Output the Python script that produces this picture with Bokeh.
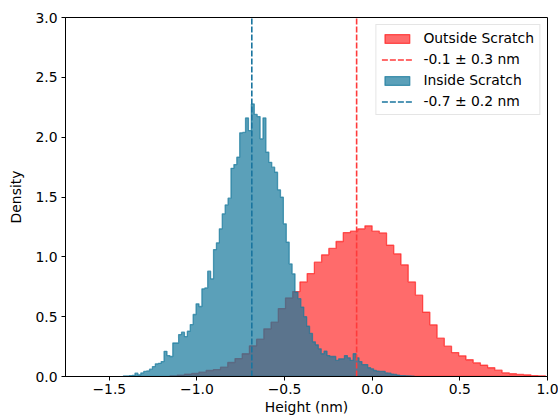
import numpy as np
from bokeh.plotting import figure
from bokeh.models import (Range1d, FixedTicker, CustomJSTickFormatter, Legend,
                          LegendItem)
from bokeh.embed import file_html
from bokeh.resources import INLINE

# ---------------- data ----------------
# Outside scratch histogram (density), 52 bins
outside_bin_start = -1.154
outside_bin_end = 0.988
outside_density = [
    0.006, 0.012, 0.020, 0.025, 0.036, 0.050, 0.058, 0.078, 0.117, 0.150,
    0.190, 0.256, 0.312, 0.398, 0.454, 0.568, 0.657, 0.710, 0.790, 0.860,
    0.955, 1.017, 1.070, 1.128, 1.203, 1.214, 1.234, 1.259, 1.214, 1.200,
    1.097, 1.025, 0.933, 0.790, 0.680, 0.537, 0.432, 0.320, 0.253, 0.200,
    0.173, 0.140, 0.114, 0.094, 0.073, 0.053, 0.031, 0.023, 0.017, 0.014,
    0.008, 0.006,
]
# Inside scratch histogram (density), 100 bins
inside_bin_start = -1.42
inside_bin_end = 0.24
inside_density = [
    0.005, 0.005, 0.008, 0.010, 0.028, 0.014, 0.030, 0.042, 0.047, 0.061,
    0.083, 0.106, 0.110, 0.125, 0.210, 0.175, 0.167, 0.280, 0.280, 0.350,
    0.370, 0.334, 0.378, 0.434, 0.518, 0.607, 0.585, 0.733, 0.740, 0.880,
    0.816, 1.061, 1.117, 1.234, 1.359, 1.434, 1.490, 1.740, 1.771, 1.832,
    2.036, 2.040, 2.161, 2.055, 2.278, 2.190, 2.172, 1.986, 2.161, 1.874,
    1.790, 1.749, 1.707, 1.560, 1.498, 1.276, 1.122, 0.941, 0.858, 0.704,
    0.650, 0.580, 0.500, 0.420, 0.360, 0.290, 0.265, 0.231, 0.190, 0.211,
    0.175, 0.167, 0.167, 0.134, 0.148, 0.148, 0.175, 0.156, 0.134, 0.190,
    0.156, 0.125, 0.100, 0.100, 0.073, 0.064, 0.050, 0.044, 0.042, 0.042,
    0.030, 0.028, 0.020, 0.017, 0.012, 0.008, 0.008, 0.006, 0.004, 0.003,
]
outside_mean = [-0.089]
inside_mean = [-0.687]
series_labels = ["Outside Scratch", "-0.1 \u00b1 0.3 nm",
                 "Inside Scratch", "-0.7 \u00b1 0.2 nm"]
x_ticks = [-1.5, -1.0, -0.5, 0.0, 0.5, 1.0]
y_ticks = [0.0, 0.5, 1.0, 1.5, 2.0, 2.5, 3.0]

RED = "#ff0000"
BLUE = "#15779b"
FONT = "DejaVu Sans"
FS = "13.9px"


def step_outline(start, end, dens):
    edges = np.linspace(start, end, len(dens) + 1)
    xs = np.repeat(edges, 2)
    ys = np.concatenate([[0.0], np.repeat(np.asarray(dens), 2), [0.0]])
    return xs, ys


p = figure(width=558, height=418, output_backend="svg", toolbar_location=None,
           x_range=Range1d(-1.75, 1.0), y_range=Range1d(0, 3.0),
           min_border_left=65, min_border_right=11, min_border_top=17,
           min_border_bottom=42)
p.grid.visible = False
p.outline_line_color = "black"
p.outline_line_alpha = 1
p.outline_line_width = 1
p.background_fill_color = "white"

ox, oy = step_outline(outside_bin_start, outside_bin_end, outside_density)
ix, iy = step_outline(inside_bin_start, inside_bin_end, inside_density)

r_out = p.patch(ox, oy, fill_color=RED, fill_alpha=0.58, line_color=RED,
                line_alpha=0.58, line_width=1.3)
r_in = p.patch(ix, iy, fill_color=BLUE, fill_alpha=0.7, line_color=BLUE,
               line_alpha=0.7, line_width=1.3)

r_out_mean = p.ray(x=outside_mean, y=[0], length=0, angle=np.pi / 2,
                   line_color="#ff3b3b", line_width=1.6, line_dash="6 2")
r_in_mean = p.ray(x=inside_mean, y=[0], length=0, angle=np.pi / 2,
                  line_color="#1a759f", line_width=1.6, line_dash="6 2")

fmt = CustomJSTickFormatter(code="return tick.toFixed(1).replace('-', '\u2212');")
for ax, ticks in ((p.xaxis, x_ticks), (p.yaxis, y_ticks)):
    ax.ticker = FixedTicker(ticks=ticks)
    ax.formatter = fmt
    ax.minor_tick_line_color = None
    ax.major_tick_in = 0
    ax.major_tick_out = 4
    ax.major_tick_line_color = "black"
    ax.axis_line_color = "black"
    ax.major_label_text_font = FONT
    ax.major_label_text_font_size = FS
    ax.major_label_text_color = "black"
    ax.axis_label_text_font = FONT
    ax.axis_label_text_font_size = FS
    ax.axis_label_text_font_style = "normal"
    ax.axis_label_text_color = "black"

p.xaxis.axis_label = "Height (nm)"
p.yaxis.axis_label = "Density"
p.xaxis.major_label_standoff = 3
p.xaxis.axis_label_standoff = 2
p.yaxis.major_label_standoff = 4
p.yaxis.axis_label_standoff = 8

legend = Legend(items=[
    LegendItem(label=series_labels[0], renderers=[r_out]),
    LegendItem(label=series_labels[1], renderers=[r_out_mean]),
    LegendItem(label=series_labels[2], renderers=[r_in]),
    LegendItem(label=series_labels[3], renderers=[r_in_mean]),
], location="top_right")
legend.label_text_font = FONT
legend.label_text_font_size = FS
legend.label_text_color = "black"
legend.glyph_width = 31
legend.glyph_height = 11
legend.label_height = 15
legend.spacing = 5
legend.padding = 5
legend.margin = 7
legend.label_standoff = 11
legend.border_line_color = "#cccccc"
legend.border_line_width = 1
legend.background_fill_alpha = 0.8
p.add_layout(legend)

open("out.html", "w").write(file_html(p, INLINE))
